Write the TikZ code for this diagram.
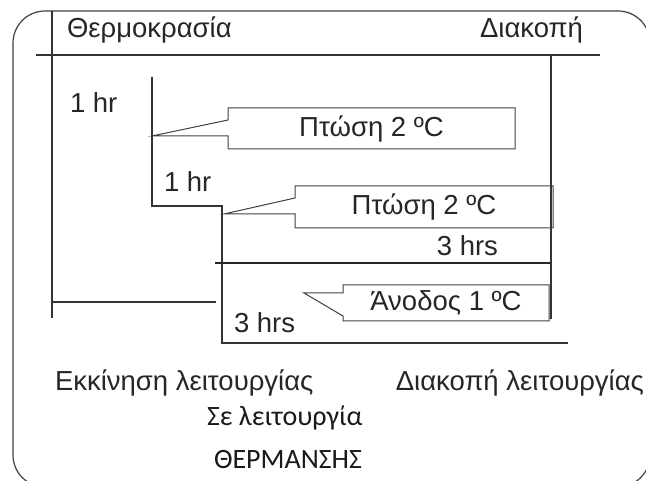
\documentclass[tikz,border=0pt]{standalone}
\usepackage{fontspec}
\setmainfont{Liberation Sans}
\newfontfamily\calfont{Carlito}
\usetikzlibrary{calc}
\tikzset{
  frame/.style={draw=black!75,line width=1.2pt,rounded corners=32pt},
  axisline/.style={draw=black!80,line width=1.3pt},
  stepline/.style={draw=black!80,line width=1.3pt},
  limitline/.style={draw=black!85,line width=2.6pt},
  bubble/.style={rectangle,inner sep=0pt,outer sep=0pt,text=black!85,
    font=\fontsize{27.5}{33}\selectfont},
  bubbleline/.style={draw=black!75,line width=1pt,line join=miter},
  plaintext/.style={inner sep=0pt,outer sep=0pt,text=black!85,
    font=\fontsize{27.5}{33}\selectfont},
  caltext/.style={inner sep=0pt,outer sep=0pt,text=black!90,
    font=\calfont\fontsize{28}{33}\selectfont}
}
\begin{document}
\begin{tikzpicture}[x=1pt,y=-1pt]
  \useasboundingbox (0,0) rectangle (646,481);
  \clip (0,0) rectangle (646,481);
  \draw[frame] (13,11) rectangle (650,487);

  % axes
  \coordinate (axtop) at (52,11);
  \coordinate (axbot) at (52,318);
  \coordinate (hl) at (36,55);
  \coordinate (hr) at (600,55);
  \coordinate (stoptop) at (551,55);
  \coordinate (stopbot) at (551,319);
  \draw[axisline] (axtop) -- (axbot);
  \draw[axisline] (hl) -- (hr);
  \draw[axisline] (stoptop) -- (stopbot);

  % temperature steps
  \coordinate (s0) at (152,77);
  \coordinate (s1) at (152,206);
  \coordinate (s2) at (222,206);
  \coordinate (s3) at (222,343);
  \coordinate (s4) at (568,343);
  \draw[stepline] (s0) -- (s1) -- (s2) -- (s3) -- (s4);
  \coordinate (lim) at (215,263);
  \draw[limitline] (lim) -- (lim -| stoptop);
  \coordinate (on1) at (52,302);
  \coordinate (on2) at (216,302);
  \draw[axisline] (on1) -- (on2);

  % headings
  \node[plaintext,anchor=base west] (tempttl) at (67,38) {Θερμοκρασία};
  \node[plaintext,anchor=base east] (stopttl) at (583,38) {Διακοπή};
  \node[plaintext,anchor=base west] (hr1) at (70,113) {1 hr};
  \node[plaintext,anchor=base west] (hr2) at (164,192) {1 hr};
  \node[plaintext,anchor=base east] (hrs1) at (498,256) {3 hrs};
  \node[plaintext,anchor=base west] (hrs2) at (234,333) {3 hrs};

  % callouts
  \node[bubble,minimum width=287pt,minimum height=41pt] (drop1)
    at (371.5,128.5) {Πτώση 2 ºC};
  \coordinate (tip1) at (152,136);
  \draw[bubbleline] (drop1.west |- tip1) -- (tip1)
    -- ($(drop1.north west)+(0,12)$) -- (drop1.north west)
    -- (drop1.north east) -- (drop1.south east) -- (drop1.south west) -- cycle;

  \node[bubble,minimum width=258pt,minimum height=42pt] (drop2)
    at (424,207) {Πτώση 2 ºC};
  \coordinate (tip2) at (224,214);
  \draw[bubbleline] (drop2.west |- tip2) -- (tip2)
    -- ($(drop2.north west)+(0,12)$) -- (drop2.north west)
    -- (drop2.north east) -- (drop2.south east) -- (drop2.south west) -- cycle;

  \node[bubble,minimum width=206pt,minimum height=36pt] (rise)
    at (446,303) {Άνοδος 1 ºC};
  \coordinate (tip3) at (304,293);
  \draw[bubbleline] (tip3) -- (rise.west |- tip3) -- (rise.north west)
    -- (rise.north east) -- (rise.south east) -- (rise.south west)
    -- ($(rise.south west)+(0,-5)$) -- cycle;

  % operation labels
  \node[plaintext,anchor=base west] (startop) at (55,391) {Εκκίνηση λειτουργίας};
  \node[plaintext,anchor=base east] (stopop) at (644,391) {Διακοπή λειτουργίας};
  \node[caltext,anchor=base west] (inop) at (207,425) {Σε λειτουργία};
  \node[caltext,anchor=base west] (heating) at (214,468) {ΘΕΡΜΑΝΣΗΣ};
\end{tikzpicture}
\end{document}
